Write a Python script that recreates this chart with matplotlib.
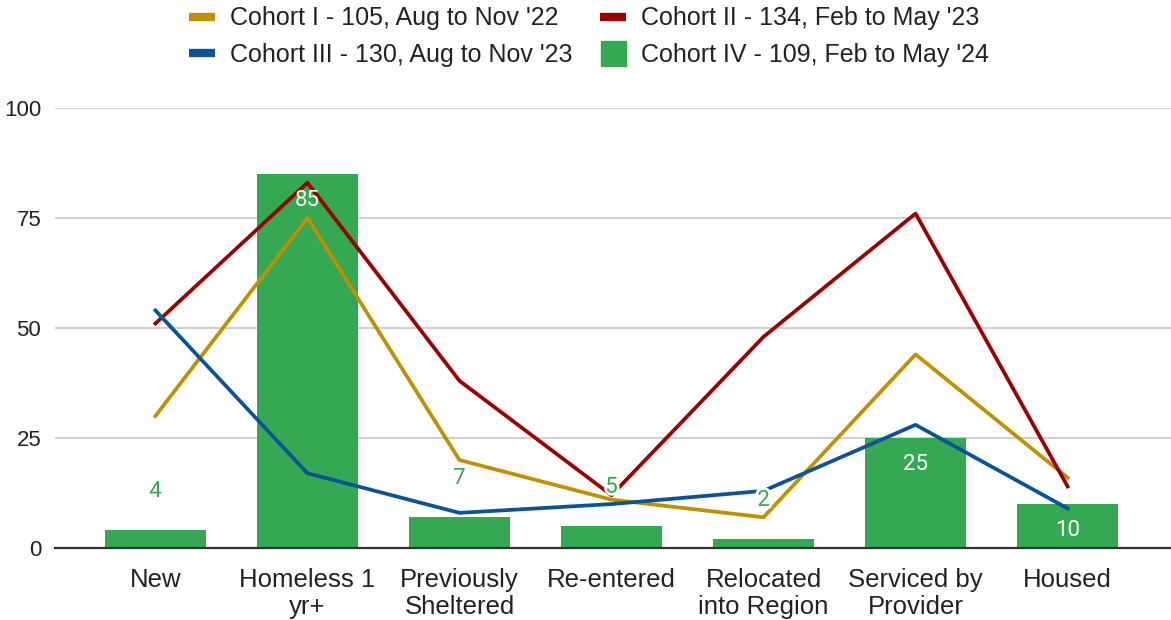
import matplotlib.pyplot as plt
import matplotlib.patheffects as pe
from matplotlib.lines import Line2D
import numpy as np

plt.rcParams['font.family'] = ['Liberation Sans', 'DejaVu Sans']

categories = ['New', 'Homeless 1\nyr+', 'Previously\nSheltered', 'Re-entered',
              'Relocated\ninto Region', 'Serviced by\nProvider', 'Housed']
cohort1 = [30, 75, 20, 11, 7, 44, 16]
cohort2 = [51, 83, 38, 12, 48, 76, 14]
cohort3 = [54, 17, 8, 10, 13, 28, 9]
cohort4 = [4, 85, 7, 5, 2, 25, 10]

names = ["Cohort I - 105, Aug to Nov '22", "Cohort II - 134, Feb to May '23",
         "Cohort III - 130, Aug to Nov '23", "Cohort IV - 109, Feb to May '24"]
gold, red, blue, green = '#bf9000', '#990000', '#0b5394', '#34a853'

fig = plt.figure(figsize=(11.71, 6.2), dpi=100)
ax = fig.add_axes([0.047, 0.116, 0.953, 0.710])
x = np.arange(len(categories))

ax.bar(x, cohort4, width=0.66, color=green, zorder=2)
ax.plot(x, cohort1, color=gold, lw=2.7, zorder=3)
ax.plot(x, cohort2, color=red, lw=2.7, zorder=3)
ax.plot(x, cohort3, color=blue, lw=2.7, zorder=3)

# value labels: inside the tall bars, above the short ones
for xi, v in zip(x, cohort4):
    if v >= 10:
        ax.annotate(str(v), (xi, v), xytext=(0, -19), textcoords='offset points',
                    ha='center', va='center', color='white', fontsize=16,
                    family='Roboto', zorder=5)
    else:
        ax.annotate(str(v), (xi, v), xytext=(0, 28), textcoords='offset points',
                    ha='center', va='center', color=green, fontsize=16,
                    family='Roboto', zorder=5,
                    path_effects=[pe.withStroke(linewidth=4, foreground='white')])

ax.set_ylim(0, 100)
ax.set_xlim(-0.66, 6.68)
ax.set_yticks([0, 25, 50, 75, 100])
ax.set_xticks(x)
ax.set_xticklabels(categories, linespacing=1.17, fontsize=18.5)
ax.tick_params(axis='both', length=0, labelsize=16, labelcolor='#222222')
ax.tick_params(axis='x', pad=14, labelsize=18.5)
ax.tick_params(axis='y', pad=10)
for lab in ax.get_xticklabels():
    lab.set_verticalalignment('top')
ax.grid(axis='y', color='#cccccc', lw=1.3, zorder=0)
ax.set_axisbelow(True)
for s in ['top', 'right', 'left']:
    ax.spines[s].set_visible(False)
ax.spines['bottom'].set_color('#333333')
ax.spines['bottom'].set_linewidth(1.6)
ax.spines['bottom'].set_zorder(4)

handles = [
    Line2D([], [], color=gold, lw=6, solid_capstyle='butt'),
    Line2D([], [], color=blue, lw=6, solid_capstyle='butt'),
    Line2D([], [], color=red, lw=6, solid_capstyle='butt'),
    Line2D([], [], color=green, marker='s', markersize=18, linestyle='none'),
]
labels = [names[0], names[2], names[1], names[3]]
fig.legend(handles, labels, ncol=2, loc='upper center', bbox_to_anchor=(0.503, 1.026),
           frameon=False, fontsize=18, handlelength=1.05, handletextpad=0.6,
           columnspacing=1.1, labelspacing=0.5, labelcolor='#222222')

fig.savefig('out.png', dpi=100, facecolor='white')
